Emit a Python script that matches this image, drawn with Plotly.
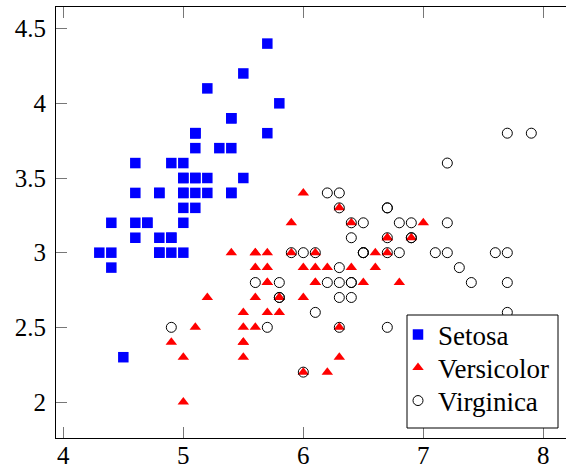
import plotly.graph_objects as go

setosa_x = [5.1,4.9,4.7,4.6,5.0,5.4,4.6,5.0,4.4,4.9,5.4,4.8,4.8,4.3,5.8,5.7,5.4,5.1,5.7,5.1,
            5.4,5.1,4.6,5.1,4.8,5.0,5.0,5.2,5.2,4.7,4.8,5.4,5.2,5.5,4.9,5.0,5.5,4.9,4.4,5.1,
            5.0,4.5,4.4,5.0,5.1,4.8,5.1,4.6,5.3,5.0]
setosa_y = [3.5,3.0,3.2,3.1,3.6,3.9,3.4,3.4,2.9,3.1,3.7,3.4,3.0,3.0,4.0,4.4,3.9,3.5,3.8,3.8,
            3.4,3.7,3.6,3.3,3.4,3.0,3.4,3.5,3.4,3.2,3.1,3.4,4.1,4.2,3.1,3.2,3.5,3.6,3.0,3.4,
            3.5,2.3,3.2,3.5,3.8,3.0,3.8,3.2,3.7,3.3]

versicolor_x = [7.0,6.4,6.9,5.5,6.5,5.7,6.3,4.9,6.6,5.2,5.0,5.9,6.0,6.1,5.6,6.7,5.6,5.8,6.2,5.6,
                5.9,6.1,6.3,6.1,6.4,6.6,6.8,6.7,6.0,5.7,5.5,5.5,5.8,6.0,5.4,6.0,6.7,6.3,5.6,5.5,
                5.5,6.1,5.8,5.0,5.6,5.7,5.7,6.2,5.1,5.7]
versicolor_y = [3.2,3.2,3.1,2.3,2.8,2.8,3.3,2.4,2.9,2.7,2.0,3.0,2.2,2.9,2.9,3.1,3.0,2.7,2.2,2.5,
                3.2,2.8,2.5,2.8,2.9,3.0,2.8,3.0,2.9,2.6,2.4,2.4,2.7,2.7,3.0,3.4,3.1,2.3,3.0,2.5,
                2.6,3.0,2.6,2.3,2.7,3.0,2.9,2.9,2.5,2.8]

virginica_x = [6.3,5.8,7.1,6.3,6.5,7.6,4.9,7.3,6.7,7.2,6.5,6.4,6.8,5.7,5.8,6.4,6.5,7.7,7.7,6.0,
               6.9,5.6,7.7,6.3,6.7,7.2,6.2,6.1,6.4,7.2,7.4,7.9,6.4,6.3,6.1,7.7,6.3,6.4,6.0,6.9,
               6.7,6.9,5.8,6.8,6.7,6.7,6.3,6.5,6.2,5.9]
virginica_y = [3.3,2.7,3.0,2.9,3.0,3.0,2.5,2.9,2.5,3.6,3.2,2.7,3.0,2.5,2.8,3.2,3.0,3.8,2.6,2.2,
               3.2,2.8,2.8,2.7,3.3,3.2,2.8,3.0,2.8,3.0,2.8,3.8,2.8,2.8,2.6,3.0,3.4,3.1,3.0,3.1,
               3.1,3.1,2.7,3.2,3.3,3.0,2.5,3.0,3.4,3.0]

x_ticks = [4, 5, 6, 7, 8]
y_ticks = [2, 2.5, 3, 3.5, 4, 4.5]
y_tick_text = ["2", "2.5", "3", "3.5", "4", "4.5"]

FONT = "'Liberation Serif', 'DejaVu Serif', 'Times New Roman', serif"

W, H = 566, 468
ML, MR, MT, MB = 56, 0, 7, 30
PW, PH = W - ML - MR, H - MT - MB


def px_x(p):
    return (p - ML) / PW


def px_y(p):
    return (H - MB - p) / PH


fig = go.Figure()
fig.add_trace(go.Scatter(x=setosa_x, y=setosa_y, mode="markers", name="Setosa", legend="legend",
                         marker=dict(symbol="square", size=10.5, color="#0000ff", line=dict(width=0))))
fig.add_trace(go.Scatter(x=versicolor_x, y=versicolor_y, mode="markers", name="Versicolor", legend="legend2",
                         marker=dict(symbol="triangle-up", size=10, color="#ff0000", line=dict(width=0))))
fig.add_trace(go.Scatter(x=virginica_x, y=virginica_y, mode="markers", name="Virginica", legend="legend3",
                         marker=dict(symbol="circle-open", size=10, color="black", line=dict(width=1, color="black"))))

# legend frame
fig.add_shape(type="rect", xref="paper", yref="paper",
              x0=px_x(407), x1=px_x(558), y0=px_y(428), y1=px_y(315),
              fillcolor="white", line=dict(color="black", width=1), layer="above")

leg_common = dict(xanchor="left", yanchor="middle", bgcolor="rgba(0,0,0,0)", borderwidth=0,
                  font=dict(family=FONT, size=27, color="black"), itemwidth=30)
sym_left = 398
fig.update_layout(
    width=W, height=H,
    margin=dict(l=ML, r=MR, t=MT, b=MB, pad=0),
    paper_bgcolor="white", plot_bgcolor="white",
    font=dict(family=FONT, size=25, color="black"),
    showlegend=True,
    legend=dict(x=px_x(sym_left), y=px_y(335), **leg_common),
    legend2=dict(x=px_x(sym_left), y=px_y(368), **leg_common),
    legend3=dict(x=px_x(sym_left), y=px_y(401), **leg_common),
)
fig.update_xaxes(range=[3.939, 8.189], tickvals=x_ticks, ticks="inside", ticklen=11,
                 tickcolor="#777", tickwidth=1, showline=True, linecolor="black", linewidth=1,
                 mirror="ticks", showgrid=False, zeroline=False, ticklabelstandoff=-5,
                 automargin=False)
fig.update_yaxes(range=[1.759, 4.645], tickvals=y_ticks, ticktext=y_tick_text, ticks="inside",
                 ticklen=11, tickcolor="#777", tickwidth=1, showline=True, linecolor="black",
                 linewidth=1, mirror=False, showgrid=False, zeroline=False, ticklabelstandoff=4,
                 automargin=False)

fig.write_html("out.html")
